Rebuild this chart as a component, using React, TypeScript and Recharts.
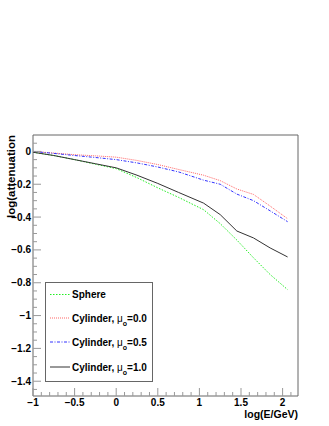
import { LineChart, Line, XAxis, YAxis } from "recharts";

// log(E/GeV) sample points
const energies = [-1, -0.75, -0.5, -0.25, 0, 0.25, 0.5, 0.75, 1.05, 1.25, 1.45, 1.65, 1.85, 2.06];

const sphere = [-0.005, -0.025, -0.05, -0.078, -0.105, -0.16, -0.222, -0.28, -0.355, -0.44, -0.54, -0.648, -0.75, -0.842];
const cyl00 = [0.0, -0.01, -0.02, -0.027, -0.035, -0.055, -0.08, -0.11, -0.145, -0.178, -0.229, -0.262, -0.333, -0.41];
const cyl05 = [0.0, -0.012, -0.025, -0.037, -0.05, -0.07, -0.095, -0.125, -0.175, -0.2, -0.26, -0.3, -0.362, -0.428];
const cyl10 = [-0.005, -0.025, -0.05, -0.075, -0.1, -0.145, -0.195, -0.25, -0.315, -0.385, -0.485, -0.527, -0.588, -0.643];

const xMajor = [-1, -0.5, 0, 0.5, 1, 1.5, 2];
const xMinor = [-0.9, -0.8, -0.7, -0.6, -0.4, -0.3, -0.2, -0.1, 0.1, 0.2, 0.3, 0.4, 0.6, 0.7, 0.8, 0.9,
    1.1, 1.2, 1.3, 1.4, 1.6, 1.7, 1.8, 1.9, 2.1];
const yMajor = [0, -0.2, -0.4, -0.6, -0.8, -1, -1.2, -1.4];
const yMinor = [0.05, -0.05, -0.1, -0.15, -0.25, -0.3, -0.35, -0.45, -0.5, -0.55, -0.65, -0.7, -0.75,
    -0.85, -0.9, -0.95, -1.05, -1.1, -1.15, -1.25, -1.3, -1.35, -1.45];

const data = energies.map((e, i) => ({
    e,
    sphere: sphere[i],
    cyl00: cyl00[i],
    cyl05: cyl05[i],
    cyl10: cyl10[i],
}));

const font = "'Liberation Sans', Arial, sans-serif";
const axisGray = "#666";

const fmt = (v: number) => (v === 0 ? "0" : String(v).replace("-", "\u2212"));

const XTick = (props: any) => {
    const { x, y, payload } = props;
    const major = xMajor.includes(payload.value);
    return (
        <g>
            <line x1={x} x2={x} y1={y} y2={y - (major ? 8 : 4)} stroke="#999" />
            {major && (
                <text x={x} y={y + 10} textAnchor="middle" fontSize={10} fontWeight="bold" fontFamily={font} fill="#000">
                    {fmt(payload.value)}
                </text>
            )}
        </g>
    );
};

const YTick = (props: any) => {
    const { x, y, payload } = props;
    const major = yMajor.includes(payload.value);
    return (
        <g>
            <line x1={x} x2={x + (major ? 8 : 4)} y1={y} y2={y} stroke="#999" />
            {major && (
                <text x={x - 2} y={y + 3.5} textAnchor="end" fontSize={10} fontWeight="bold" fontFamily={font} fill="#000">
                    {fmt(payload.value)}
                </text>
            )}
        </g>
    );
};

const legendItems = [
    { label: "Sphere", mu: "", color: "#22ee22", dash: "1.5 1.5" },
    { label: "Cylinder, ", mu: "0.0", color: "#ff6666", dash: "1 1" },
    { label: "Cylinder, ", mu: "0.5", color: "#3333ff", dash: "3 1.5 1 1.5" },
    { label: "Cylinder, ", mu: "1.0", color: "#333", dash: "" },
];
const legendRows = [12.5, 36, 60, 85];

export default function App() {
    return (
        <div style={{ position: "absolute", left: 0, top: 0, width: 329, height: 426, background: "#fff" }}>
            <LineChart width={329} height={426} data={data} margin={{ top: 134, left: 0, right: 30, bottom: 0 }}>
                <XAxis
                    dataKey="e"
                    type="number"
                    domain={[-1, 2.185]}
                    allowDataOverflow
                    ticks={[...xMajor, ...xMinor]}
                    interval={0}
                    height={30}
                    tickSize={0}
                    tickMargin={0}
                    tickLine={false}
                    tick={<XTick />}
                    stroke={axisGray}
                />
                <XAxis xAxisId="top" orientation="top" type="number" domain={[-1, 2.185]} height={1} tick={false} tickLine={false} stroke={axisGray} />
                <YAxis
                    type="number"
                    domain={[-1.49, 0.1]}
                    allowDataOverflow
                    ticks={[...yMajor, ...yMinor]}
                    interval={0}
                    width={33}
                    tickSize={0}
                    tickMargin={0}
                    tickLine={false}
                    tick={<YTick />}
                    stroke={axisGray}
                />
                <YAxis yAxisId="right" orientation="right" type="number" domain={[-1.49, 0.1]} width={1} tick={false} tickLine={false} stroke={axisGray} />
                <Line type="linear" dataKey="sphere" stroke="#22ee22" strokeDasharray="1.5 1.5" dot={false} isAnimationActive={false} />
                <Line type="linear" dataKey="cyl00" stroke="#ff6666" strokeDasharray="1 1" dot={false} isAnimationActive={false} />
                <Line type="linear" dataKey="cyl05" stroke="#3333ff" strokeDasharray="3 1.5 1 1.5" dot={false} isAnimationActive={false} />
                <Line type="linear" dataKey="cyl10" stroke="#333" dot={false} isAnimationActive={false} />
            </LineChart>

            <svg width={329} height={426} style={{ position: "absolute", left: 0, top: 0, pointerEvents: "none" }}>
                <text x={14.5} y={135} transform="rotate(-90 14.5 135)" textAnchor="end" fontSize={11.5} fontWeight="bold" fontFamily={font}>
                    log(attenuation
                </text>
                <text x={298} y={418} textAnchor="end" fontSize={10.5} fontWeight="bold" fontFamily={font}>
                    log(E/GeV)
                </text>
                <g transform="translate(45 282)">
                    <rect x={0.5} y={0.5} width={107} height={99} fill="#fff" stroke={axisGray} />
                    {legendItems.map((it, i) => (
                        <g key={i}>
                            <line x1={5} x2={25} y1={legendRows[i]} y2={legendRows[i]} stroke={it.color} strokeDasharray={it.dash || undefined} />
                            <text x={27} y={legendRows[i] + 3.5} fontSize={10} fontWeight="bold" fontFamily={font}>
                                {it.label}
                                {it.mu && (
                                    <>
                                        <tspan fontWeight="normal">μ</tspan>
                                        <tspan dy={4} fontSize={7}>o</tspan>
                                        <tspan dy={-4}>={it.mu}</tspan>
                                    </>
                                )}
                            </text>
                        </g>
                    ))}
                </g>
            </svg>
        </div>
    );
}
